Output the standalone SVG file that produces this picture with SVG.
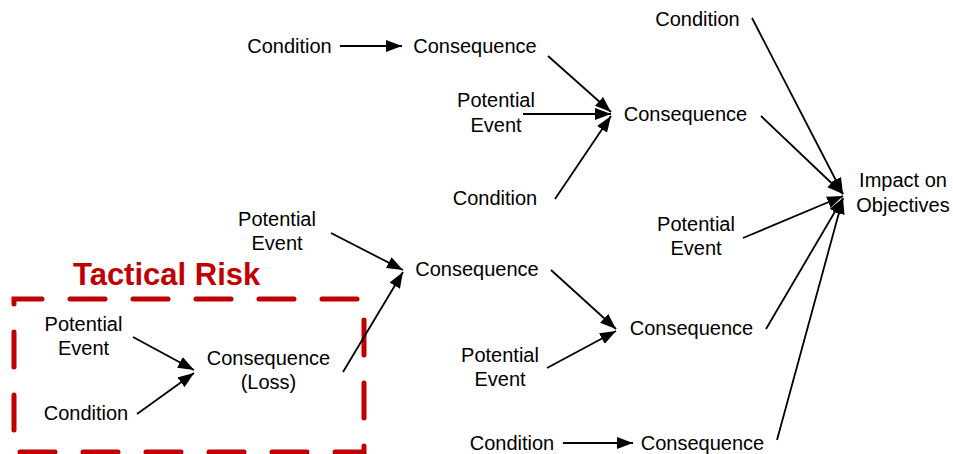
<svg xmlns="http://www.w3.org/2000/svg" width="953" height="454" viewBox="0 0 953 454">
  <style>
    .lbl { font-family: "Liberation Sans", Arial, sans-serif; font-size: 20px; fill: #000; text-anchor: middle; }
    .title { font-family: "Liberation Sans", Arial, sans-serif; font-size: 31px; font-weight: bold; fill: #C00000; }
    .edge { stroke: #000; stroke-width: 1.8; fill: none; marker-end: url(#arrow); }
    .frame { stroke: #C00000; stroke-width: 5; fill: none; stroke-dasharray: 35 28; stroke-dashoffset: 7; stroke-linecap: round; }
  </style>
  <defs>
    <marker id="arrow" markerUnits="userSpaceOnUse" markerWidth="17" markerHeight="12" refX="16" refY="6" orient="auto">
      <path d="M0,0 L16,6 L0,12 Z" fill="#000"/>
    </marker>
  </defs>
  <rect width="953" height="454" fill="#fff"/>

  <!-- tactical risk boundary -->
  <g id="tactical-risk">
    <rect class="frame" x="14" y="299" width="350" height="153"/>
    <text class="title" x="73" y="285">Tactical Risk</text>
  </g>

  <!-- connectors -->
  <g id="connectors">
    <line class="edge" x1="340" y1="46" x2="402" y2="46"/>
    <line class="edge" x1="548" y1="56" x2="611" y2="112"/>
    <line class="edge" x1="523" y1="114" x2="611" y2="114"/>
    <line class="edge" x1="555" y1="199" x2="611" y2="116"/>
    <line class="edge" x1="752" y1="18" x2="843" y2="194"/>
    <line class="edge" x1="761" y1="116" x2="843" y2="194"/>
    <line class="edge" x1="743" y1="238" x2="843" y2="196"/>
    <line class="edge" x1="766" y1="329" x2="843" y2="198"/>
    <line class="edge" x1="777" y1="440" x2="843" y2="198"/>
    <line class="edge" x1="331" y1="233" x2="403" y2="270"/>
    <line class="edge" x1="343" y1="372" x2="403" y2="272"/>
    <line class="edge" x1="551" y1="270" x2="616" y2="329"/>
    <line class="edge" x1="547" y1="368" x2="616" y2="331"/>
    <line class="edge" x1="563" y1="443" x2="633" y2="443"/>
    <line class="edge" x1="133" y1="337" x2="194" y2="370"/>
    <line class="edge" x1="137" y1="414" x2="194" y2="373"/>
  </g>

  <!-- nodes -->
  <g id="n-condition-1"><text class="lbl" x="289.5" y="53">Condition</text></g>
  <g id="n-consequence-1"><text class="lbl" x="475" y="53">Consequence</text></g>
  <g id="n-event-1"><text class="lbl" x="496" y="107">Potential</text><text class="lbl" x="496" y="132">Event</text></g>
  <g id="n-condition-2"><text class="lbl" x="495" y="205">Condition</text></g>
  <g id="n-consequence-2"><text class="lbl" x="685.5" y="121">Consequence</text></g>
  <g id="n-condition-3"><text class="lbl" x="697.5" y="26">Condition</text></g>
  <g id="n-impact"><text class="lbl" x="903" y="187">Impact on</text><text class="lbl" x="903" y="212">Objectives</text></g>
  <g id="n-event-2"><text class="lbl" x="696" y="231">Potential</text><text class="lbl" x="696" y="255">Event</text></g>
  <g id="n-consequence-3"><text class="lbl" x="691.5" y="335">Consequence</text></g>
  <g id="n-condition-4"><text class="lbl" x="512" y="450">Condition</text></g>
  <g id="n-consequence-4"><text class="lbl" x="702.5" y="450">Consequence</text></g>
  <g id="n-event-3"><text class="lbl" x="277" y="226">Potential</text><text class="lbl" x="277" y="250">Event</text></g>
  <g id="n-consequence-5"><text class="lbl" x="477" y="276">Consequence</text></g>
  <g id="n-event-4"><text class="lbl" x="500" y="362">Potential</text><text class="lbl" x="500" y="386">Event</text></g>
  <g id="n-consequence-loss"><text class="lbl" x="268.5" y="365">Consequence</text><text class="lbl" x="268.5" y="389">(Loss)</text></g>
  <g id="n-event-5"><text class="lbl" x="83.5" y="331">Potential</text><text class="lbl" x="83.5" y="355">Event</text></g>
  <g id="n-condition-5"><text class="lbl" x="86" y="420">Condition</text></g>
</svg>
